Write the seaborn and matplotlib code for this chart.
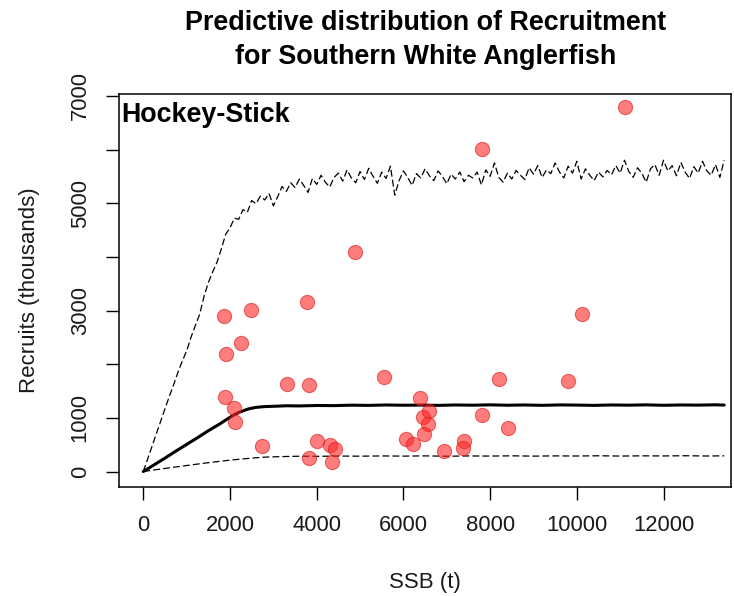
import matplotlib
matplotlib.use("Agg")
import matplotlib.pyplot as plt
import seaborn as sns
import pandas as pd

sns.set_theme(style="ticks")
plt.rcParams["font.family"] = ["Liberation Sans", "DejaVu Sans"]

# ---- data -------------------------------------------------------------
obs_ssb = [1862, 2485, 3769, 2254, 1915, 3308, 3822, 5552, 1885, 2092,
           2115, 2738, 4014, 4306, 4421, 3822, 4346, 6060, 6228, 6383,
           6445, 6597, 6560, 6475, 6943, 7398, 7368, 7820, 8212, 8420,
           9804, 10127, 4884, 7806, 11115]
obs_rec = [2904, 3010, 3165, 2401, 2190, 1631, 1607, 1767, 1394, 1189,
           917, 475, 568, 494, 414, 246, 171, 600, 513, 1376,
           1021, 1133, 885, 699, 382, 574, 432, 1053, 1718, 816,
           1692, 2930, 4097, 6006, 6800]

upper_ssb = list(range(0, 13401, 100))
upper_rec = [0, 235, 470, 700, 940, 1170, 1400, 1620, 1850, 2060,
             2250, 2500, 2720, 2930, 3260, 3520, 3720, 3900, 4150, 4420,
             4540, 4720, 4700, 4880, 4830, 5050, 4990, 5130, 5060, 5180,
             4950, 5120, 5310, 5220, 5380, 5290, 5450, 5330, 5200, 5460,
             5350, 5520, 5390, 5300, 5480, 5560, 5410, 5620, 5470, 5380,
             5590, 5440, 5650, 5500, 5370, 5580, 5460, 5690, 5150, 5420,
             5600, 5480, 5330, 5550, 5470, 5640, 5510, 5420, 5600, 5500,
             5360, 5540, 5450, 5580, 5400, 5520, 5470, 5580, 5340, 5620,
             5500, 5750, 5480, 5390, 5560, 5450, 5610, 5520, 5440, 5660,
             5540, 5700, 5480, 5620, 5550, 5750, 5580, 5470, 5690, 5560,
             5780, 5450, 5640, 5520, 5420, 5580, 5490, 5610, 5530, 5700,
             5560, 5800, 5590, 5480, 5660, 5560, 5390, 5640, 5720, 5520,
             5800, 5600, 5700, 5510, 5760, 5580, 5460, 5680, 5560, 5780,
             5600, 5520, 5720, 5480, 5800]

mid_ssb = [0, 250, 500, 750, 1000, 1250, 1500, 1750, 2000, 2100, 2200, 2300,
           2400, 2500, 2600, 2800, 3000, 3300, 3600, 4000, 4400, 4800, 5200,
           5600, 6000, 6400, 6800, 7200, 7600, 8000, 8400, 8800, 9200, 9600,
           10000, 10400, 10800, 11200, 11600, 12000, 12400, 12800, 13200, 13400]
mid_rec = [0, 125, 250, 380, 505, 630, 760, 880, 1010, 1060, 1100, 1130,
           1160, 1180, 1195, 1210, 1215, 1225, 1222, 1230, 1228, 1236, 1232,
           1240, 1235, 1238, 1232, 1240, 1236, 1242, 1235, 1240, 1233, 1241,
           1238, 1232, 1240, 1236, 1242, 1234, 1240, 1237, 1243, 1238]

low_ssb = [0, 500, 1000, 1500, 2000, 2500, 2800, 3200, 3600, 4000, 4500,
           5000, 5500, 6000, 6500, 7000, 7500, 8000, 8500, 9000, 9500,
           10000, 10500, 11000, 11500, 12000, 12500, 13000, 13400]
low_rec = [0, 58, 112, 165, 212, 250, 268, 278, 285, 283, 288,
           286, 290, 287, 291, 285, 290, 288, 292, 287, 291,
           289, 293, 288, 292, 290, 294, 289, 292]

x_ticks = [0, 2000, 4000, 6000, 8000, 10000, 12000]
y_ticks = [0, 1000, 2000, 3000, 4000, 5000, 6000, 7000]
y_ticklabels = ["0", "1000", "", "3000", "", "5000", "", "7000"]

title_text = "Predictive distribution of Recruitment\nfor Southern White Anglerfish"
panel_label = "Hockey-Stick"
x_label = "SSB (t)"
y_label = "Recruits (thousands)"

# ---- figure -----------------------------------------------------------
W, H = 734, 596
fig = plt.figure(figsize=(W / 100, H / 100), dpi=100)
L, R, T, B = 119.3, 731.0, 94.5, 486.7
ax = fig.add_axes([L / W, 1 - B / H, (R - L) / W, (B - T) / H])
ax.set_facecolor("white")

up_df = pd.DataFrame({"ssb": upper_ssb, "rec": upper_rec})
mid_df = pd.DataFrame({"ssb": mid_ssb, "rec": mid_rec})
low_df = pd.DataFrame({"ssb": low_ssb, "rec": low_rec})
obs_df = pd.DataFrame({"ssb": obs_ssb, "rec": obs_rec})

sns.lineplot(data=up_df, x="ssb", y="rec", ax=ax, color="black", lw=0.9,
             dashes=False, estimator=None, sort=False)
ax.lines[-1].set_dashes((5.5, 2.5))
sns.lineplot(data=low_df, x="ssb", y="rec", ax=ax, color="black", lw=0.9,
             dashes=False, estimator=None, sort=False)
ax.lines[-1].set_dashes((5.5, 2.5))
sns.lineplot(data=mid_df, x="ssb", y="rec", ax=ax, color="black", lw=2.2,
             estimator=None, sort=False)

sns.scatterplot(data=obs_df, x="ssb", y="rec", ax=ax, s=105,
                color=(1.0, 0.15, 0.15), alpha=0.6,
                edgecolor=(0.85, 0.1, 0.1), linewidth=0.8, zorder=5)

ax.set_xlim(-554, 13557)
ax.set_ylim(-283, 7025)
ax.set_xticks(x_ticks)
ax.set_xticklabels([str(v) for v in x_ticks])
ax.set_yticks(y_ticks)
ax.set_yticklabels(y_ticklabels, rotation=90, va="center")

for sp in ax.spines.values():
    sp.set_visible(True)
    sp.set_color("black")
    sp.set_linewidth(1.1)

ax.tick_params(axis="both", direction="out", length=9.5, width=1.0,
               color="black", labelsize=15.8, labelcolor="#1a1a1a", pad=11)

ax.set_xlabel(x_label, fontsize=16, color="#1a1a1a")
ax.set_ylabel(y_label, fontsize=16, color="#1a1a1a")
ax.xaxis.set_label_coords(0.5, -(572 - B) / (B - T))
ax.yaxis.set_label_coords((39.6 - L) / (R - L), 0.5)

ax.text((121 - L) / (R - L), (B - 121.7) / (B - T), panel_label,
        transform=ax.transAxes, ha="left", va="baseline",
        fontsize=19.4, fontweight="bold", color="black")

fig.text((L + R) / 2 / W, 1 - 40.0 / H, title_text, ha="center", va="center",
         fontsize=19.4, fontweight="bold", color="black", linespacing=1.35)

fig.savefig("out.png", dpi=100, facecolor="white")
